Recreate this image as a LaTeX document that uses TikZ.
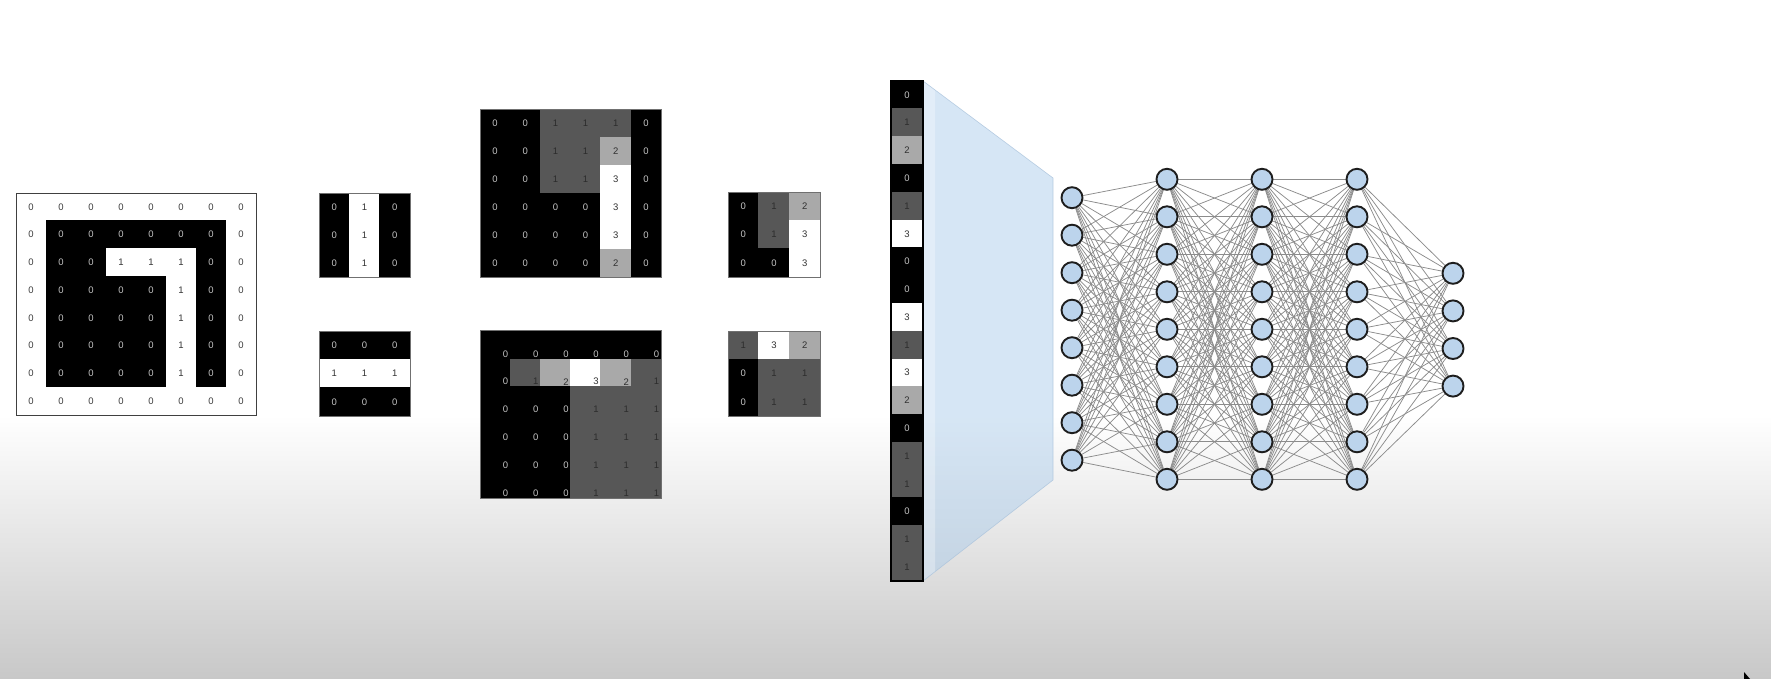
\documentclass[tikz,border=0pt]{standalone}
\usepackage{fontspec}
\newfontfamily\cellfont{Liberation Sans}
\pgfdeclarelayer{bgA}
\pgfdeclarelayer{bgB}
\pgfsetlayers{bgA,bgB,main}
% cell fills by value code
\definecolor{f0}{HTML}{000000}
\definecolor{f1}{HTML}{575757}
\definecolor{f2}{HTML}{A9A9A9}
\definecolor{f3}{HTML}{FFFFFF}
\definecolor{fW}{HTML}{FFFFFF}
\definecolor{fB}{HTML}{000000}
\definecolor{fL}{HTML}{FFFFFF}
% cell text colours by value code
\definecolor{t0}{HTML}{C4C4C4}
\definecolor{t1}{HTML}{2C2C2C}
\definecolor{t2}{HTML}{303030}
\definecolor{t3}{HTML}{333333}
\definecolor{tW}{HTML}{3C3C3C}
\definecolor{tB}{HTML}{C4C4C4}
\definecolor{tL}{HTML}{333333}
\expandafter\def\csname lab0\endcsname{0}
\expandafter\def\csname lab1\endcsname{1}
\expandafter\def\csname lab2\endcsname{2}
\expandafter\def\csname lab3\endcsname{3}
\expandafter\def\csname labW\endcsname{0}
\expandafter\def\csname labB\endcsname{0}
\expandafter\def\csname labL\endcsname{1}
\definecolor{framegray}{HTML}{707070}
\definecolor{neuronfill}{RGB}{188,212,236}
\definecolor{neuronline}{HTML}{1E1E1E}
\definecolor{edgegray}{HTML}{8C8C8C}
\definecolor{trapblue}{RGB}{166,201,234}
\definecolor{trapedge}{RGB}{170,195,220}
\definecolor{bggray}{RGB}{200,200,200}
\tikzset{
  celltext/.style={font=\cellfont\fontsize{9.5}{11}\selectfont, inner sep=0pt, anchor=center},
  neuron/.style={circle, minimum size=21pt, inner sep=0pt, fill=neuronfill, draw=neuronline, line width=1.9pt},
  synapse/.style={draw=edgegray, line width=0.75pt},
  gridframe/.style={draw=framegray, line width=0.8pt},
}
% #1 name, #2 x0, #3 y0, #4 cell width, #5 cell height, #6 text dx, #7 text dy, #8 rows
\newcommand{\cellgrid}[8]{%
  \foreach \row [count=\r from 0] in {#8} {
    \foreach \v [count=\c from 0] in \row {
      \fill[fill=f\v] ({#2+\c*#4-0.3},{#3+\r*#5-0.3}) rectangle ++({#4+0.6},{#5+0.6});
    }
  }
  \foreach \row [count=\r from 0] in {#8} {
    \foreach \v [count=\c from 0] in \row {
      \node[celltext, text=t\v] (#1-\r-\c) at ({#2+(\c+0.5)*#4+#6},{#3+(\r+0.5)*#5+#7}) {\csname lab\v\endcsname};
    }
  }
}
\begin{document}
\begin{tikzpicture}[x=1pt,y=-1pt]
\useasboundingbox (0,0) rectangle (1771,679);
\begin{pgfonlayer}{bgA}
  \fill[white] (0,0) rectangle (1771,416);
  \shade[top color=white, bottom color=bggray] (0,415) rectangle (1771,679);
\end{pgfonlayer}

% input image 8x8
\cellgrid{A}{16}{193}{30}{27.75}{0}{0}{
  {W,W,W,W,W,W,W,W},
  {W,B,B,B,B,B,B,W},
  {W,B,B,L,L,L,B,W},
  {W,B,B,B,B,L,B,W},
  {W,B,B,B,B,L,B,W},
  {W,B,B,B,B,L,B,W},
  {W,B,B,B,B,L,B,W},
  {W,W,W,W,W,W,W,W}}
\draw[draw=black!75, line width=0.9pt] (16,193) rectangle (256,415);

% filters
\cellgrid{F1}{319}{193}{30.33}{28}{0}{0}{{B,L,B},{B,L,B},{B,L,B}}
\draw[gridframe] (319,193) rectangle (410,277);
\cellgrid{F2}{319}{331}{30.33}{28.33}{0}{0}{{B,B,B},{L,L,L},{B,B,B}}
\draw[gridframe] (319,331) rectangle (410,416);

% convolution results
\cellgrid{C1}{480}{109}{30.17}{28}{0}{0}{
  {0,0,1,1,1,0},
  {0,0,1,1,2,0},
  {0,0,1,1,3,0},
  {0,0,0,0,3,0},
  {0,0,0,0,3,0},
  {0,0,0,0,2,0}}
\draw[gridframe] (480,109) rectangle (661,277);
\begin{scope}
  \clip (480,330) rectangle (661,498);
  \fill[black] (480,330) rectangle (661,498);
  \cellgrid{C2}{480}{331}{30.17}{27.8}{10.5}{9}{
    {0,0,0,0,0,0},
    {0,1,2,3,2,1},
    {0,0,0,1,1,1},
    {0,0,0,1,1,1},
    {0,0,0,1,1,1},
    {0,0,0,1,1,1}}
\end{scope}
\draw[gridframe] (480,330) rectangle (661,498);

% pooled maps
\cellgrid{P1}{728}{192}{30.67}{28.33}{0}{0}{{0,1,2},{0,1,3},{0,0,3}}
\draw[gridframe] (728,192) rectangle (820,277);
\cellgrid{P2}{728}{331}{30.67}{28.33}{0}{0}{{1,3,2},{0,1,1},{0,1,1}}
\draw[gridframe] (728,331) rectangle (820,416);

% flattening funnel
\fill[fill=trapblue, fill opacity=0.45] (923,81) -- (1053,178) -- (1053,480) -- (923,581) -- cycle;
\fill[white, fill opacity=0.3] (923,81) -- (935,90) -- (935,572) -- (923,581) -- cycle;
\draw[draw=trapedge, line width=0.6pt, draw opacity=0.8] (923,81) -- (1053,178) -- (1053,480) -- (923,581);

% flattened vector
\cellgrid{V}{891}{81}{32}{27.78}{0}{0}{{0},{1},{2},{0},{1},{3},{0},{0},{3},{1},{3},{2},{0},{1},{1},{0},{1},{1}}
\draw[draw=black, line width=1.6pt] (891,81) rectangle (923,581);

% neural network
\foreach \i in {1,...,8} { \node[neuron] (La-\i) at (1072,{197.7+37.5*(\i-1)}) {}; }
\foreach \i in {1,...,9} {
  \node[neuron] (Lb-\i) at (1167,{179.3+37.5*(\i-1)}) {};
  \node[neuron] (Lc-\i) at (1262,{179.3+37.5*(\i-1)}) {};
  \node[neuron] (Ld-\i) at (1357,{179.3+37.5*(\i-1)}) {};
}
\foreach \i in {1,...,4} { \node[neuron] (Le-\i) at (1453,{273.3+37.6*(\i-1)}) {}; }
\begin{pgfonlayer}{bgB}
  \foreach \i in {1,...,8} { \foreach \j in {1,...,9} { \draw[synapse] (La-\i) -- (Lb-\j); } }
  \foreach \i in {1,...,9} { \foreach \j in {1,...,9} {
    \draw[synapse] (Lb-\i) -- (Lc-\j);
    \draw[synapse] (Lc-\i) -- (Ld-\j);
  } }
  \foreach \i in {1,...,9} { \foreach \j in {1,...,4} { \draw[synapse] (Ld-\i) -- (Le-\j); } }
\end{pgfonlayer}

% mouse pointer
\fill[black] (1744,672) -- (1744,679) -- (1750,679) -- cycle;
\end{tikzpicture}
\end{document}
